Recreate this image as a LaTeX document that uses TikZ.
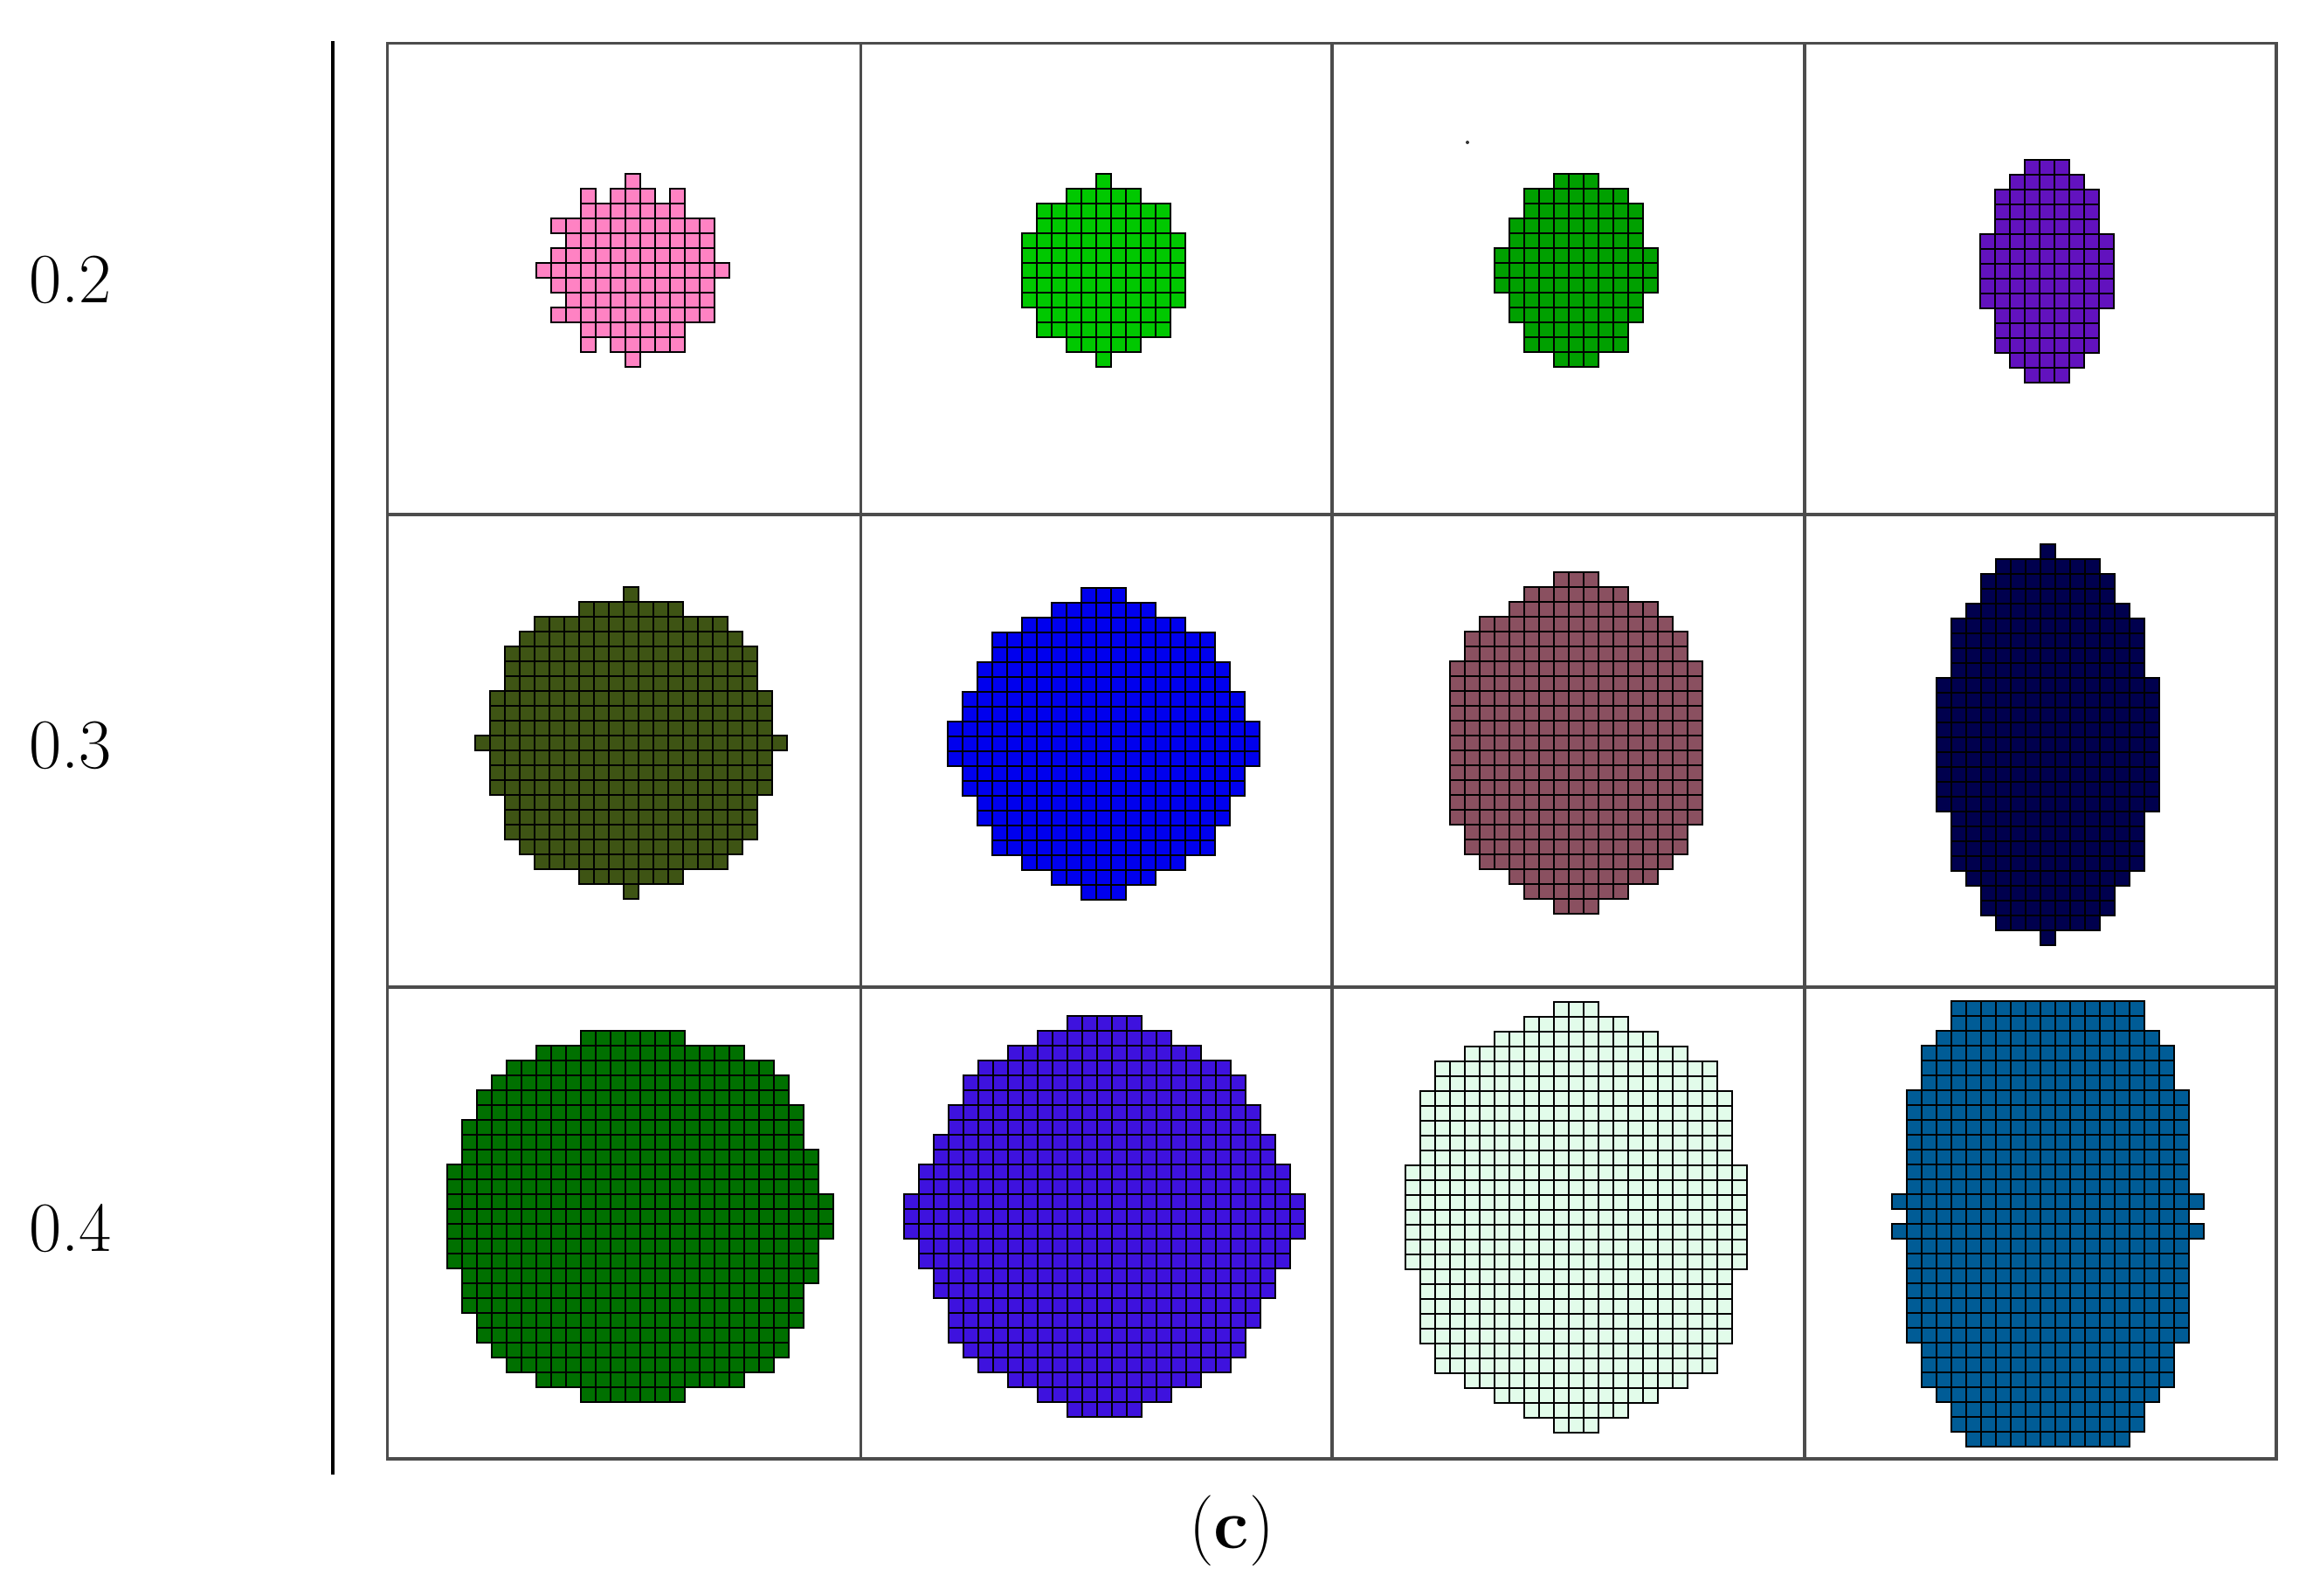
\documentclass[tikz,border=0pt]{standalone}
\usepackage{tikz}
\definecolor{pinkcell}{RGB}{255,130,195}
\definecolor{limecell}{RGB}{0,200,0}
\definecolor{grasscell}{RGB}{0,160,0}
\definecolor{purplecell}{RGB}{98,18,190}
\definecolor{olivecell}{RGB}{62,84,20}
\definecolor{bluecell}{RGB}{0,0,238}
\definecolor{mauvecell}{RGB}{138,80,96}
\definecolor{navycell}{RGB}{0,0,78}
\definecolor{forestcell}{RGB}{0,112,0}
\definecolor{violetcell}{RGB}{62,18,222}
\definecolor{mintcell}{RGB}{226,252,234}
\definecolor{tealcell}{RGB}{0,92,150}
\tikzset{
  frameline/.style={line width=0.9pt, draw=black!70},
  sidebar/.style={line width=1.4pt, draw=black},
  cell/.style={line width=0.65pt, draw=black},
  ratiolabel/.style={font=\fontsize{23}{27}\selectfont, inner sep=0pt},
  speck/.style={fill=black!80},
}
\newcommand{\cellsz}{0.17}
\newcommand{\drawblob}[4]{%
  \foreach \lo/\hi [count=\r from 0] in {#4}
    \foreach \c in {\lo,...,\hi}
      \draw[cell, fill=#3] ({#1+\c*\cellsz},{#2-\r*\cellsz}) rectangle ++(\cellsz,-\cellsz);
}

\begin{document}
\begin{tikzpicture}
\useasboundingbox (0,0) rectangle (26.40,18.26);
% row labels and side bar
\node[ratiolabel] (lab2) at (0.805,15.06) {0.2};
\node[ratiolabel] (lab3) at (0.805,9.73) {0.3};
\node[ratiolabel] (lab4) at (0.805,4.20) {0.4};
\draw[sidebar] (3.81,1.38) -- (3.81,17.79);
% table frame
\draw[frameline] (4.435,1.56) rectangle (26.06,17.764);
\draw[frameline] (9.855,1.56) -- (9.855,17.764);
\draw[frameline] (15.250,1.56) -- (15.250,17.764);
\draw[frameline] (20.660,1.56) -- (20.660,17.764);
\draw[frameline] (4.435,12.37) -- (26.06,12.37);
\draw[frameline] (4.435,6.96) -- (26.06,6.96);
% row 0.2
\drawblob{6.14}{16.27}{pinkcell}{6/6,5/7,3/9,1/11,2/11,1/11,0/12,1/11,2/11,1/11,3/9,5/9,6/6}
\drawblob{6.14}{16.10}{pinkcell}{3/3}
\drawblob{6.14}{16.10}{pinkcell}{9/9}
\drawblob{6.14}{14.40}{pinkcell}{3/3}
\drawblob{11.70}{16.27}{limecell}{5/5,3/7,1/9,1/9,0/10,0/10,0/10,0/10,0/10,1/9,1/9,3/7,5/5}
\drawblob{17.11}{16.27}{grasscell}{4/6,2/8,2/9,1/9,1/9,0/10,0/10,0/10,1/9,1/9,2/8,2/8,4/6}
\fill[speck] (16.80,16.63) circle (0.02);
\drawblob{22.67}{16.43}{purplecell}{3/5,2/6,1/7,1/7,1/7,0/8,0/8,0/8,0/8,0/8,1/7,1/7,1/7,2/6,3/5}
% row 0.3
\drawblob{5.44}{11.54}{olivecell}{10/10,7/13,4/16,3/17,2/18,2/18,2/18,1/19,1/19,1/19,0/20,1/19,1/19,1/19,2/18,2/18,2/18,3/17,4/16,7/13,10/10}
\drawblob{10.85}{11.53}{bluecell}{9/11,7/13,5/15,3/17,3/17,2/18,2/18,1/19,1/19,0/20,0/20,0/20,1/19,1/19,2/18,2/18,3/17,3/17,5/15,7/13,9/11}
\drawblob{16.60}{11.71}{mauvecell}{7/9,5/11,4/13,2/14,1/15,1/15,0/16,0/16,0/16,0/16,0/16,0/16,0/16,0/16,0/16,0/16,0/16,1/15,1/15,2/14,4/13,5/11,7/9}
\drawblob{22.17}{12.03}{navycell}{7/7,4/10,3/11,3/11,2/12,1/13,1/13,1/13,1/13,0/14,0/14,0/14,0/14,0/14,0/14,0/14,0/14,0/14,1/13,1/13,1/13,1/13,2/12,3/11,3/11,4/10,7/7}
% row 0.4
\drawblob{5.12}{6.46}{forestcell}{9/15,6/19,4/21,3/22,2/22,2/23,1/23,1/23,1/24,0/24,0/24,0/25,0/25,0/25,0/24,0/24,1/24,1/23,1/23,2/23,2/22,3/22,4/21,6/19,9/15}
\drawblob{10.35}{6.63}{violetcell}{11/15,9/17,7/19,5/21,4/22,4/22,3/23,3/23,2/24,2/24,1/25,1/25,0/26,0/26,0/26,1/25,1/25,2/24,2/24,3/23,3/23,3/22,4/22,5/21,7/19,9/17,11/15}
\drawblob{16.09}{6.79}{mintcell}{10/12,8/14,6/16,4/18,2/20,2/20,1/21,1/21,1/21,1/21,1/21,0/22,0/22,0/22,0/22,0/22,0/22,0/22,1/21,1/21,1/21,1/21,1/21,2/20,2/20,4/18,6/16,8/14,10/12}
\drawblob{21.66}{6.80}{tealcell}{4/16,4/16,3/17,2/18,2/18,2/18,1/19,1/19,1/19,1/19,1/19,1/19,1/19,0/20,1/19,0/20,1/19,1/19,1/19,1/19,1/19,1/19,1/19,2/18,2/18,2/18,3/17,4/16,4/16,5/15}
% caption
\node[ratiolabel] (cap) at (14.10,0.74) {(\textbf{c})};
\end{tikzpicture}
\end{document}
